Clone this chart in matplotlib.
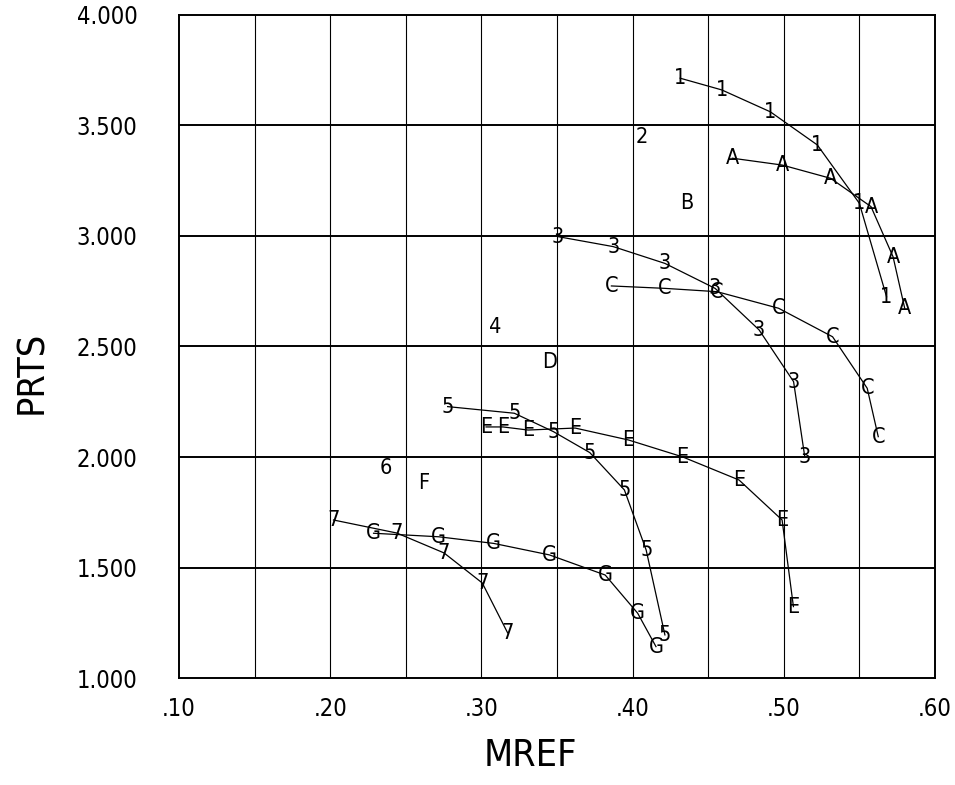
import matplotlib
matplotlib.use("Agg")
import matplotlib.pyplot as plt
from matplotlib import font_manager

# curves: (label letter, x values, y values)
s1_x = [0.4315, 0.459, 0.4911, 0.5222, 0.550, 0.568]
s1_y = [3.714, 3.661, 3.562, 3.412, 3.148, 2.725]

sA_x = [0.466, 0.499, 0.531, 0.5577, 0.5723, 0.580]
sA_y = [3.352, 3.321, 3.261, 3.133, 2.906, 2.673]

s3_x = [0.3508, 0.3872, 0.4214, 0.4546, 0.4837, 0.5065, 0.5139]
s3_y = [2.997, 2.952, 2.876, 2.763, 2.575, 2.341, 2.001]

sC_x = [0.386, 0.4215, 0.4559, 0.4966, 0.5323, 0.5552, 0.5625]
sC_y = [2.774, 2.763, 2.748, 2.673, 2.544, 2.311, 2.092]

s5_x = [0.2777, 0.3218, 0.3476, 0.3717, 0.3946, 0.409, 0.4214]
s5_y = [2.228, 2.198, 2.115, 2.020, 1.851, 1.579, 1.195]

sE_x = [0.3031, 0.3143, 0.3309, 0.362, 0.3973, 0.4329, 0.4704, 0.4989, 0.5064]
sE_y = [2.136, 2.136, 2.122, 2.131, 2.077, 2.001, 1.896, 1.715, 1.323]

s7_x = [0.2022, 0.2441, 0.2753, 0.3006, 0.3174]
s7_y = [1.715, 1.656, 1.566, 1.430, 1.204]

sG_x = [0.2287, 0.2718, 0.3082, 0.345, 0.3819, 0.4034, 0.4155]
sG_y = [1.655, 1.639, 1.609, 1.557, 1.466, 1.293, 1.142]

curves = [("1", s1_x, s1_y), ("A", sA_x, sA_y), ("3", s3_x, s3_y),
          ("C", sC_x, sC_y), ("5", s5_x, s5_y), ("E", sE_x, sE_y),
          ("7", s7_x, s7_y), ("G", sG_x, sG_y)]

# single points
single_labels = ["2", "B", "4", "D", "6", "F"]
single_x = [0.4059, 0.4356, 0.3092, 0.3449, 0.2365, 0.2616]
single_y = [3.449, 3.148, 2.590, 2.431, 1.950, 1.881]

x_ticks = [0.10, 0.20, 0.30, 0.40, 0.50, 0.60]
x_ticklabels = [".10", ".20", ".30", ".40", ".50", ".60"]
y_ticks = [1.0, 1.5, 2.0, 2.5, 3.0, 3.5, 4.0]
y_ticklabels = ["1.000", "1.500", "2.000", "2.500", "3.000", "3.500", "4.000"]

# thin, narrow-ish font if we can find one
fonts = font_manager.fontManager.ttflist
stretch = "normal"
weight = "normal"
if any(f.name == "Liberation Sans Narrow" for f in fonts):
    fam = "Liberation Sans Narrow"
elif any(f.name == "DejaVu Sans" and f.stretch == "condensed" for f in fonts):
    fam = "DejaVu Sans"
    stretch = "condensed"
else:
    fam = "Roboto"
    if any(f.name == "Roboto" and f.weight in (300, "light") for f in fonts):
        weight = "light"
plt.rcParams['font.family'] = [fam, 'DejaVu Sans']
plt.rcParams['font.stretch'] = stretch
plt.rcParams['font.weight'] = weight

fig = plt.figure(figsize=(9.55, 7.85), dpi=100)
ax = fig.add_axes([0.1874, 0.1363, 0.7916, 0.8446])

ax.set_xlim(0.10, 0.60)
ax.set_ylim(1.0, 4.0)

# grid
for xv in [0.15, 0.20, 0.25, 0.30, 0.35, 0.40, 0.45, 0.50, 0.55]:
    ax.axvline(xv, color="black", lw=0.8, zorder=1)
for yv in [1.5, 2.0, 2.5, 3.0, 3.5]:
    ax.axhline(yv, color="black", lw=1.4, zorder=1)

for sp in ax.spines.values():
    sp.set_linewidth(1.4)

for lab, xs, ys in curves:
    ax.plot(xs, ys, color="black", lw=0.9, zorder=2)
    for x, y in zip(xs, ys):
        ax.text(x, y, lab, ha="center", va="center", fontsize=15.5, zorder=3)

for lab, x, y in zip(single_labels, single_x, single_y):
    ax.text(x, y, lab, ha="center", va="center", fontsize=15.5, zorder=3)

ax.set_xticks(x_ticks)
ax.set_xticklabels(x_ticklabels, fontsize=17)
ax.set_yticks(y_ticks)
ax.set_yticklabels(y_ticklabels, fontsize=17)
ax.tick_params(axis="x", length=0, pad=14)
ax.tick_params(axis="y", length=0, pad=30)

fig.text(530 / 955, 1 - 756 / 785, "MREF", ha="center", va="center", fontsize=27)
fig.text(32 / 955, 1 - 372 / 785, "PRTS", ha="center", va="center", fontsize=27, rotation=90)

fig.savefig("out.png", dpi=100)
